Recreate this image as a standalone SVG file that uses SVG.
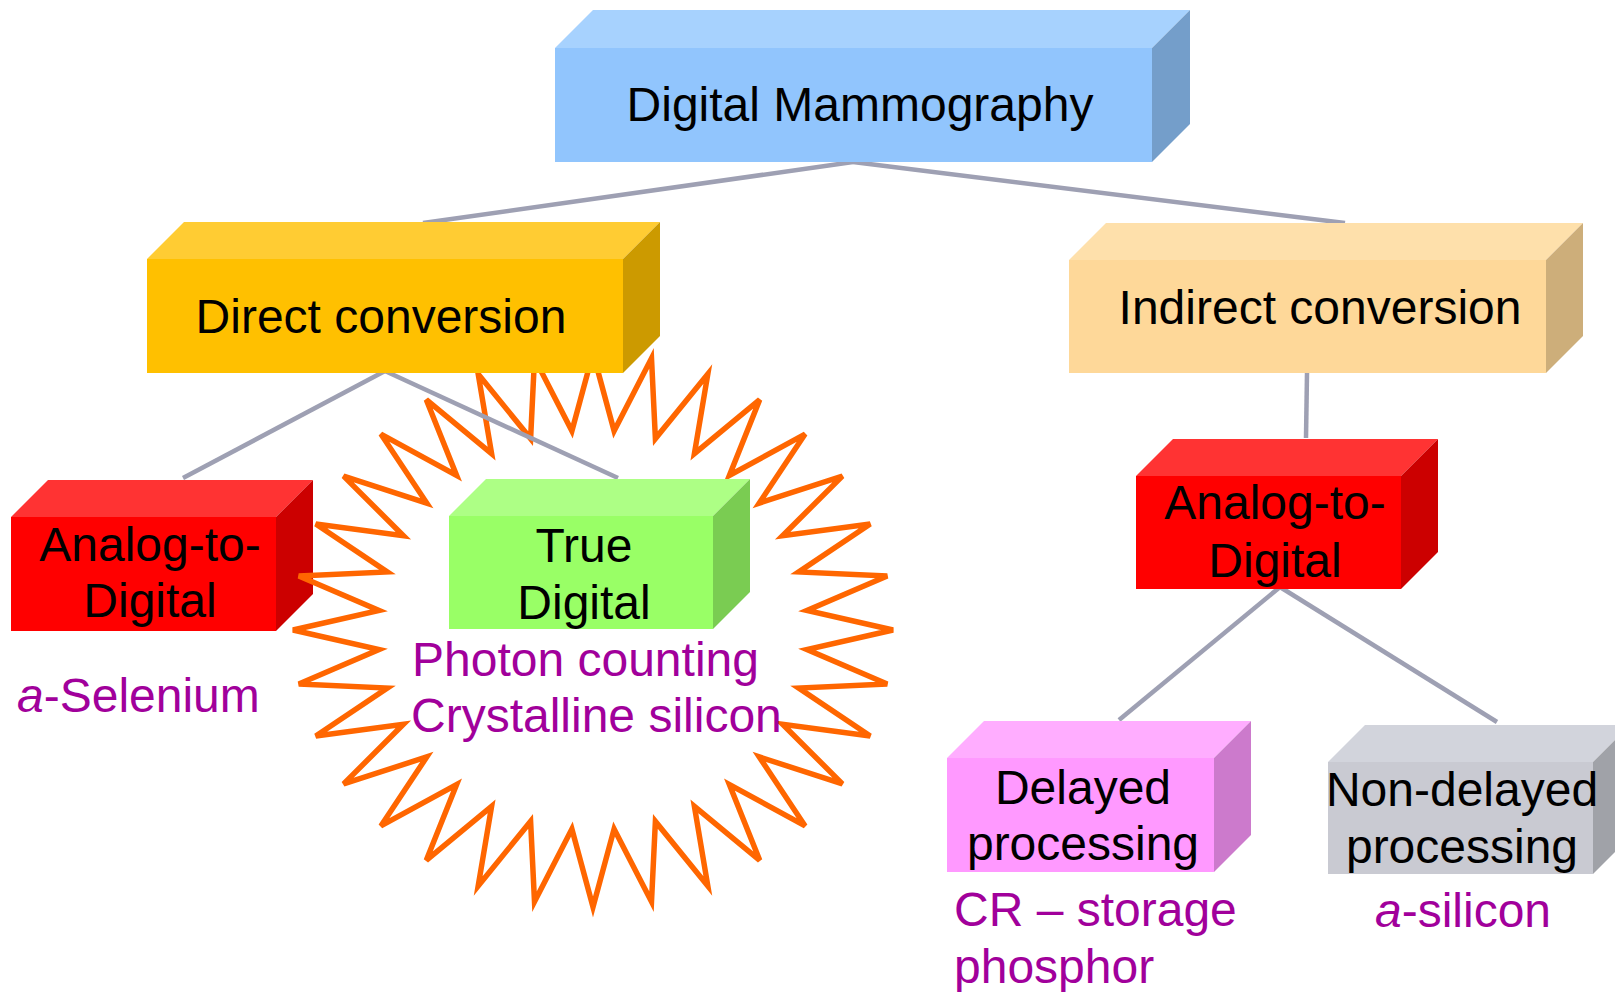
<svg xmlns="http://www.w3.org/2000/svg" width="1615" height="992" viewBox="0 0 1615 992">
<style>
text{font-family:"Liberation Sans",Arial,sans-serif;font-size:48px}
.lbl{fill:#000;text-anchor:middle}
.sub{fill:#A1009B}
.conn line{stroke:#9EA0B3;stroke-width:4.5;stroke-linecap:butt}
.star{fill:none;stroke:#FF6600;stroke-width:5.5;stroke-linejoin:miter}
</style>
<rect width="1615" height="992" fill="#fff"/>

<g id="node-analog-left">
<rect x="11" y="517" width="265" height="114" fill="#FF0000"/>
<polygon points="11,517 48,480 313,480 276,517" fill="#FF3333"/>
<polygon points="276,517 313,480 313,594 276,631" fill="#CC0000"/>
<text class="lbl" x="150" y="561">Analog-to-</text>
<text class="lbl" x="150" y="617">Digital</text>
</g>

<g id="star">
<polygon class="star" points="593,353 614.1,431 651.5,358.3 655.4,438.6 707.8,374.1 694.4,453.6 759.7,399.7 729.4,475.4 805.1,434.1 759.2,503.1 842.4,476.1 782.6,535.7 870.2,524 798.7,571.9 887.2,576 807,610.4 893,630 807,649.6 887.2,684 798.7,688.1 870.2,736 782.6,724.3 842.4,783.9 759.2,756.9 805.1,825.9 729.4,784.6 759.7,860.3 694.4,806.4 707.8,885.9 655.4,821.4 651.5,901.7 614.1,829 593,907 571.9,829 534.5,901.7 530.6,821.4 478.2,885.9 491.6,806.4 426.3,860.3 456.6,784.6 380.9,825.9 426.8,756.9 343.6,783.9 403.4,724.3 315.8,736 387.3,688.1 298.8,684 379,649.6 293,630 379,610.4 298.8,576 387.3,571.9 315.8,524 403.4,535.7 343.6,476.1 426.8,503.1 380.9,434.1 456.6,475.4 426.3,399.7 491.6,453.6 478.2,374.1 530.6,438.6 534.5,358.3 571.9,431"/>
</g>

<g id="connectors" class="conn">
<line x1="853" y1="162" x2="423" y2="223"/>
<line x1="853" y1="162" x2="1345" y2="223"/>
<line x1="385" y1="371" x2="183" y2="478"/>
<line x1="385" y1="371" x2="618" y2="478"/>
<line x1="1307" y1="373" x2="1306" y2="438"/>
<line x1="1280" y1="587" x2="1119" y2="720"/>
<line x1="1280" y1="587" x2="1497" y2="722"/>
</g>

<g id="node-digital-mammography">
<rect x="555" y="48" width="597" height="114" fill="#91C5FD"/>
<polygon points="555,48 593,10 1190,10 1152,48" fill="#A7D2FE"/>
<polygon points="1152,48 1190,10 1190,124 1152,162" fill="#749ECA"/>
<text class="lbl" x="860" y="121">Digital Mammography</text>
</g>

<g id="node-direct">
<rect x="147" y="259" width="476" height="114" fill="#FFC000"/>
<polygon points="147,259 184,222 660,222 623,259" fill="#FFCC33"/>
<polygon points="623,259 660,222 660,336 623,373" fill="#CC9A00"/>
<text class="lbl" x="381" y="333">Direct conversion</text>
</g>

<g id="node-indirect">
<rect x="1069" y="260" width="477" height="113" fill="#FED899"/>
<polygon points="1069,260 1106,223 1583,223 1546,260" fill="#FEE0AB"/>
<polygon points="1546,260 1583,223 1583,336 1546,373" fill="#CDAE7A"/>
<text class="lbl" x="1320" y="324">Indirect conversion</text>
</g>

<g id="node-true-digital">
<rect x="449" y="516" width="264" height="113" fill="#99FF66"/>
<polygon points="449,516 486,479 750,479 713,516" fill="#ADFF85"/>
<polygon points="713,516 750,479 750,592 713,629" fill="#7ACC52"/>
<text class="lbl" x="584" y="562">True</text>
<text class="lbl" x="584" y="619">Digital</text>
</g>

<g id="node-analog-right">
<rect x="1136" y="476" width="265" height="113" fill="#FF0000"/>
<polygon points="1136,476 1173,439 1438,439 1401,476" fill="#FF3333"/>
<polygon points="1401,476 1438,439 1438,552 1401,589" fill="#CC0000"/>
<text class="lbl" x="1275" y="519">Analog-to-</text>
<text class="lbl" x="1275" y="577">Digital</text>
</g>

<g id="node-delayed">
<rect x="947" y="758" width="267" height="114" fill="#FF99FF"/>
<polygon points="947,758 984,721 1251,721 1214,758" fill="#FFADFF"/>
<polygon points="1214,758 1251,721 1251,835 1214,872" fill="#CC7ACC"/>
<text class="lbl" x="1083" y="804">Delayed</text>
<text class="lbl" x="1083" y="860">processing</text>
</g>

<g id="node-non-delayed">
<rect x="1328" y="762" width="265" height="112" fill="#C9CAD2"/>
<polygon points="1328,762 1365,725 1630,725 1593,762" fill="#D2D4DC"/>
<polygon points="1593,762 1630,725 1630,837 1593,874" fill="#A0A2A8"/>
<text class="lbl" x="1462" y="806">Non-delayed</text>
<text class="lbl" x="1462" y="863">processing</text>
</g>

<g id="labels">
<text class="sub" x="17" y="712"><tspan font-style="italic">a</tspan>-Selenium</text>
<text class="sub" x="412" y="676">Photon counting</text>
<text class="sub" x="411" y="732">Crystalline silicon</text>
<text class="sub" x="954" y="926">CR – storage</text>
<text class="sub" x="954" y="983">phosphor</text>
<text class="sub" x="1463" y="927" text-anchor="middle"><tspan font-style="italic">a</tspan>-silicon</text>
</g>
</svg>
